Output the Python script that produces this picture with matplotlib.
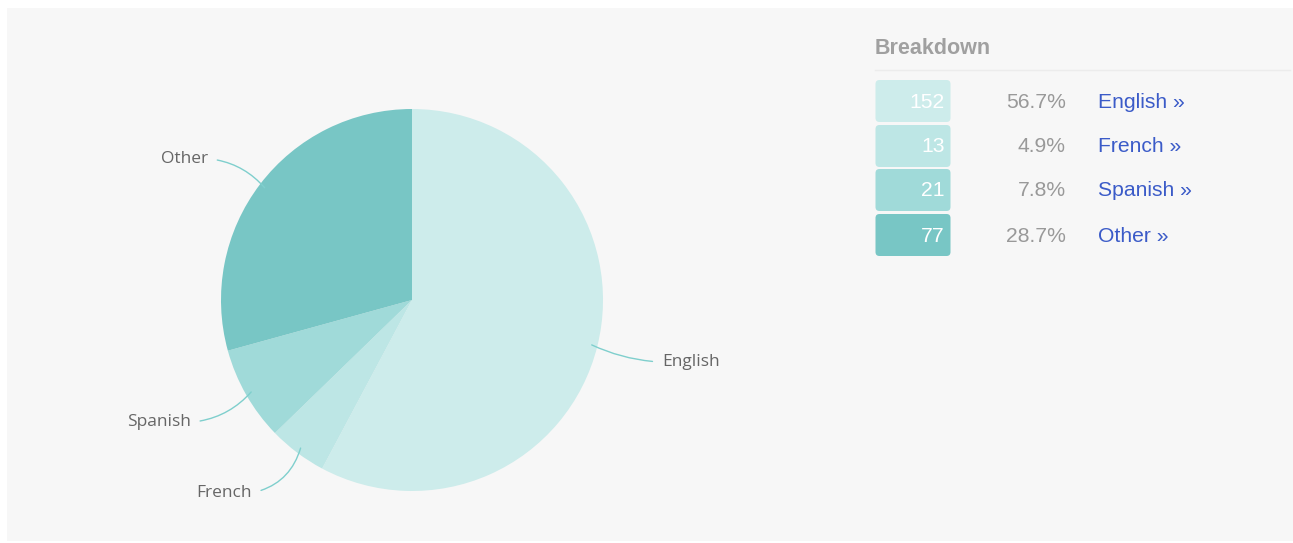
import numpy as np
import matplotlib.pyplot as plt
from matplotlib.patches import FancyBboxPatch, Rectangle

# language breakdown
languages = ["English", "French", "Spanish", "Other"]
counts = [152, 13, 21, 77]
percents = ["56.7%", "4.9%", "7.8%", "28.7%"]
colors = ["#cdeceb", "#bde6e5", "#a0dad9", "#78c6c5"]

W, H = 1293, 543
fig = plt.figure(figsize=(W / 100, H / 100), dpi=100, facecolor="white")

# full-figure overlay in pixel units for the panel and the table
bg = fig.add_axes([0, 0, 1, 1])
bg.set_xlim(0, W)
bg.set_ylim(H, 0)
bg.axis("off")
bg.add_patch(Rectangle((7, 8), W - 7, H - 10, facecolor="#f7f7f7", edgecolor="none"))

# pie axes: centre (412, 300), radius 191 px
cx, cy, r = 412, 300, 191
pie_ax = fig.add_axes([(cx - r) / W, (H - cy - r) / H, 2 * r / W, 2 * r / H])
wedges, _ = pie_ax.pie(counts, colors=colors, startangle=90, counterclock=False,
                       radius=1, wedgeprops=dict(linewidth=0))
pie_ax.set_xlim(-1, 1)
pie_ax.set_ylim(-1, 1)
pie_ax.set_aspect("equal")
pie_ax.axis("off")

label_pos = {
    "English": (1.31, -0.325, "left", 0.0),
    "French": (-0.84, -1.01, "right", 1.0),
    "Spanish": (-1.16, -0.64, "right", 1.0),
    "Other": (-1.07, 0.74, "right", 1.0),
}
curve = {"English": -0.1, "French": 0.3, "Spanish": 0.2, "Other": -0.2}
for w, name in zip(wedges, languages):
    mid = np.deg2rad((w.theta1 + w.theta2) / 2)
    ex, ey = 0.97 * np.cos(mid), 0.97 * np.sin(mid)
    tx, ty, ha, rx = label_pos[name]
    pie_ax.annotate(name, xy=(ex, ey), xytext=(tx, ty), ha=ha, va="center",
                    fontsize=12.5, color="#666666", family="Open Sans",
                    annotation_clip=False,
                    arrowprops=dict(arrowstyle="-", color="#7fcfcd", lw=1.0,
                                    relpos=(rx, 0.5), shrinkA=5, shrinkB=0,
                                    connectionstyle=f"arc3,rad={curve[name]}"))

# breakdown table
bg.text(875, 48, "Breakdown", fontsize=15.5, fontweight="bold", color="#a0a0a0",
        family="Liberation Sans", va="center", ha="left")
bg.plot([875, 1290], [70, 70], color="#ececec", lw=1)
row_y = [101, 146, 190, 235]
for y, n, p, name, c in zip(row_y, counts, percents, languages, colors):
    bg.add_patch(FancyBboxPatch((877, y - 19.5), 72, 39,
                                boxstyle="round,pad=1.5,rounding_size=4",
                                facecolor=c, edgecolor="none"))
    bg.text(945, y + 1, str(n), fontsize=15.2, color="white", family="Liberation Sans",
            ha="right", va="center")
    bg.text(1066, y + 1, p, fontsize=15.2, color="#999999", family="Liberation Sans",
            ha="right", va="center")
    bg.text(1098, y + 1, name + " \u00bb", fontsize=15.2, color="#3b5bc8",
            family="Liberation Sans", ha="left", va="center")

fig.savefig("out.png", dpi=100, facecolor="white")
